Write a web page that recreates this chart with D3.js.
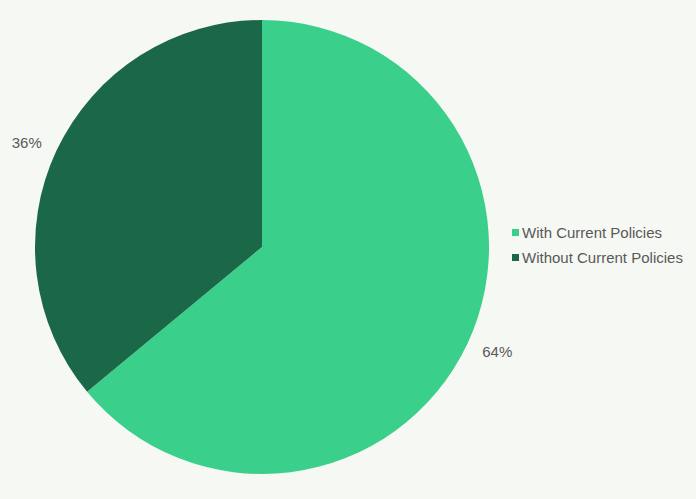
<!DOCTYPE html>
<html>
<head>
<meta charset="utf-8">
<script src="https://cdn.jsdelivr.net/npm/d3@7"></script>
<style>
  html, body { margin: 0; padding: 0; background: #f6f8f3; }
  svg { display: block; font-family: "Liberation Sans", Arial, sans-serif; }
</style>
</head>
<body>
<div id="chart"></div>
<script>
// data
var categories = ["With Current Policies", "Without Current Policies"];
var shares = [64, 36];
var colors = ["#3acf8a", "#1b6848"];

var svgWidth = 696;
var svgHeight = 499;

// pie geometry
var cx = 262, cy = 247, radius = 227;
var labelRx = 260, labelRy = 246;

var svg = d3.select("#chart")
  .append("svg")
  .attr("width", svgWidth)
  .attr("height", svgHeight);

svg.append("rect")
  .attr("width", svgWidth)
  .attr("height", svgHeight)
  .attr("fill", "#f6f8f3");

var pieGroup = svg.append("g")
  .attr("transform", `translate(${cx}, ${cy})`);

var pie = d3.pie().sort(null).value(d => d);
var arcs = pie(shares);

var arc = d3.arc().innerRadius(0).outerRadius(radius);

pieGroup.selectAll("path")
  .data(arcs)
  .enter()
  .append("path")
  .attr("d", arc)
  .attr("fill", (d, i) => colors[i]);

// outside percentage labels
pieGroup.selectAll("text.pct")
  .data(arcs)
  .enter()
  .append("text")
  .attr("class", "pct")
  .attr("x", d => Math.sin((d.startAngle + d.endAngle) / 2) * labelRx)
  .attr("y", d => -Math.cos((d.startAngle + d.endAngle) / 2) * labelRy)
  .attr("dy", "0.35em")
  .attr("text-anchor", "middle")
  .attr("font-size", 15)
  .attr("fill", "#595959")
  .text(d => d.data + "%");

// legend
var legend = svg.append("g")
  .attr("transform", "translate(512, 229)");

var items = legend.selectAll("g")
  .data(categories)
  .enter()
  .append("g")
  .attr("transform", (d, i) => `translate(0, ${i * 25})`);

items.append("rect")
  .attr("width", 7)
  .attr("height", 7)
  .attr("fill", (d, i) => colors[i]);

items.append("text")
  .attr("x", 10)
  .attr("y", 3.5)
  .attr("dy", "0.35em")
  .attr("font-size", 15)
  .attr("fill", "#595959")
  .text(d => d);
</script>
</body>
</html>
